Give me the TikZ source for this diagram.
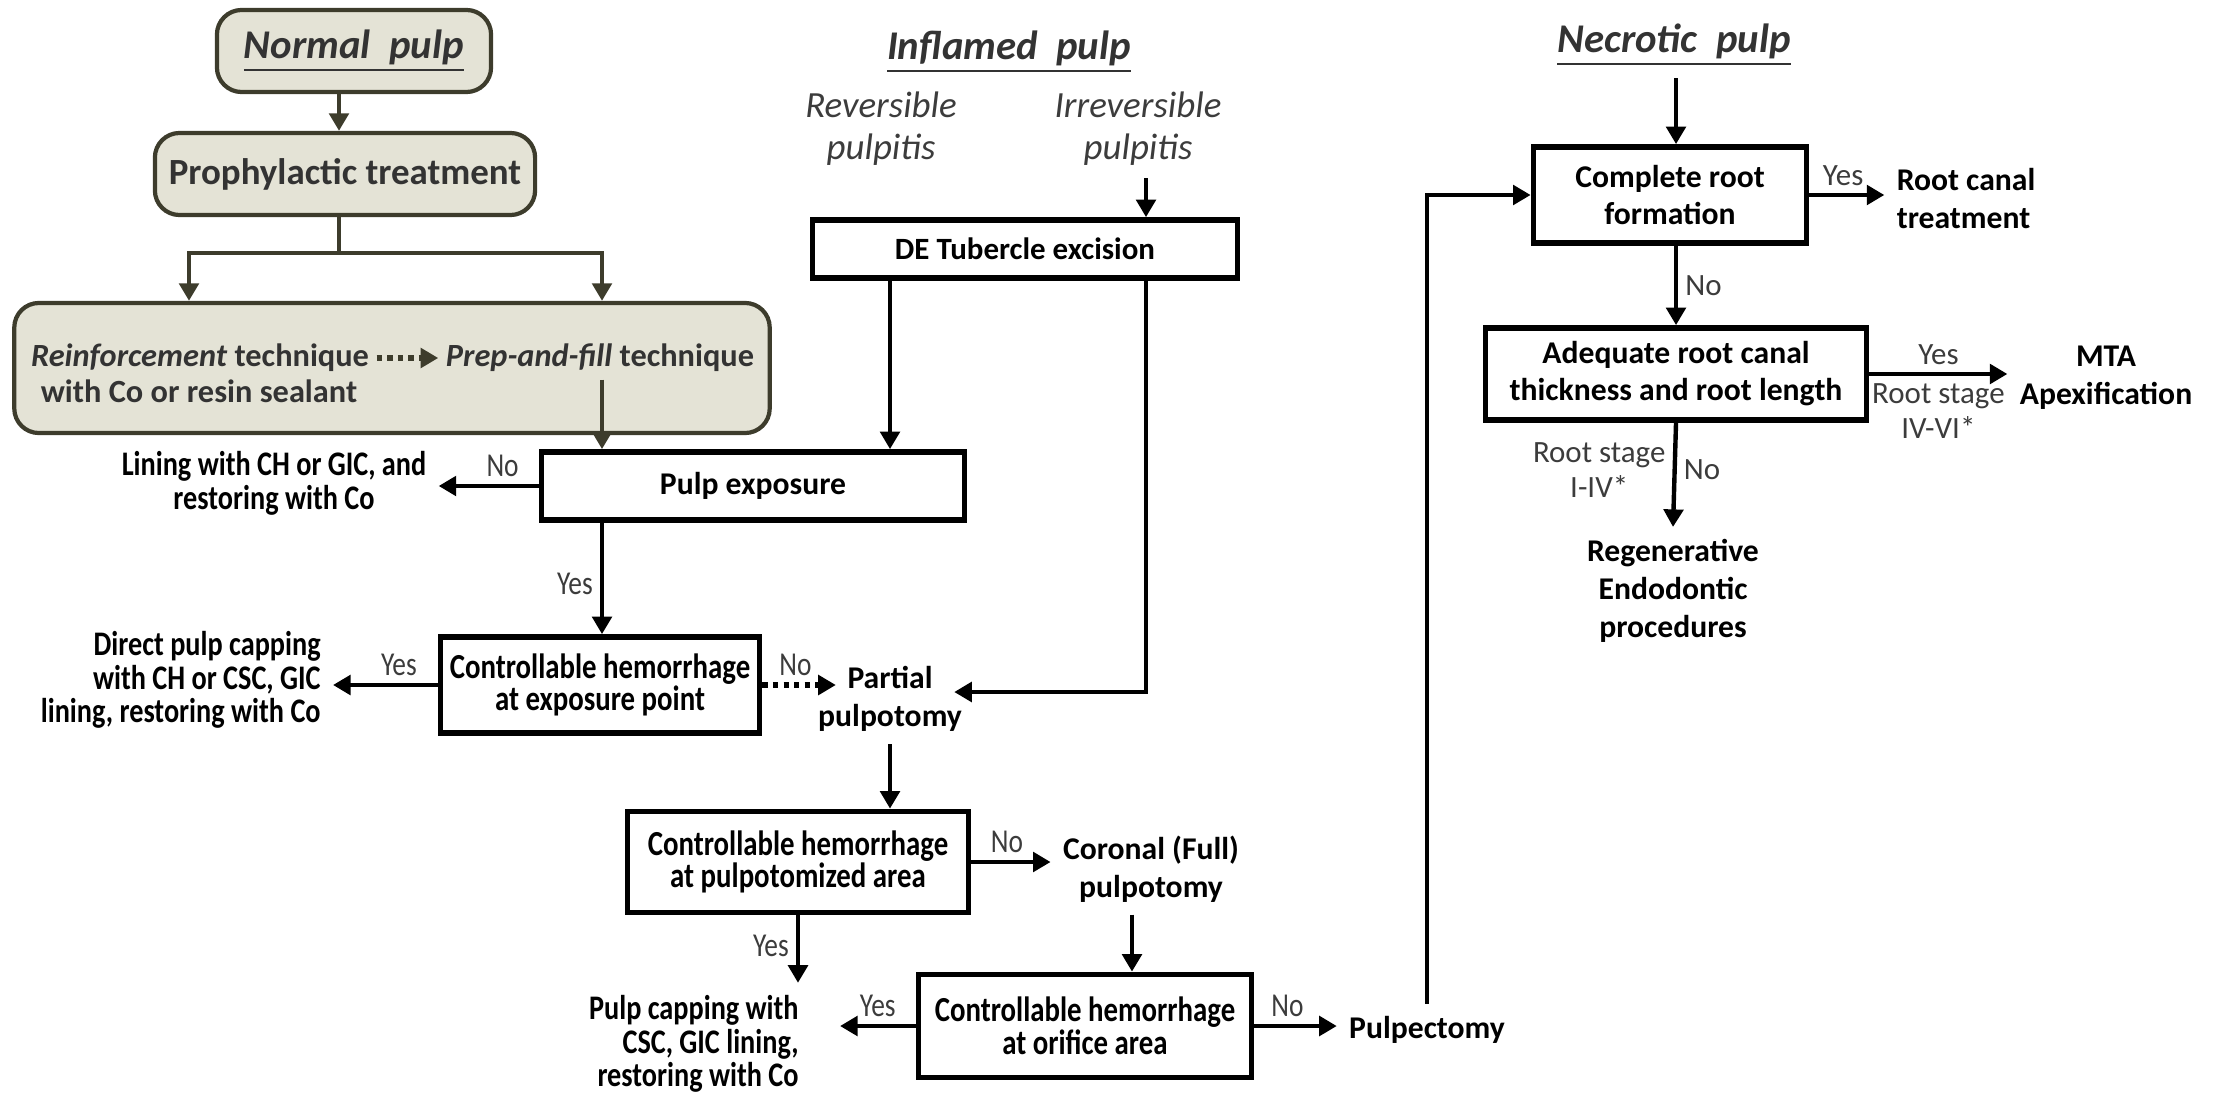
\documentclass[tikz,border=0pt]{standalone}
\usepackage{fontspec}
\setmainfont{Carlito}
\newfontfamily\narrowfont{Carlito}[FakeStretch=0.82]
\usetikzlibrary{arrows.meta,positioning}
\definecolor{dpbeige}{HTML}{E4E3D6}
\definecolor{dpolive}{HTML}{3D3C2C}
\definecolor{dptext}{HTML}{333333}
\definecolor{dpgray}{HTML}{3C3C3C}
\newcommand{\fs}[2]{\fontsize{#1}{#2}\selectfont}
\tikzset{
  shade/.style={draw=dpolive,fill=dpbeige,line width=1.2pt,rounded corners=7pt,
    inner sep=0pt,text=dptext},
  techtxt/.style={font=\bfseries\fs{9.2}{10},text=dptext,inner sep=2pt},
  decbox/.style={draw,line width=1.6pt,fill=white,inner sep=0pt,align=center,
    font=\bfseries\fs{9}{10.5}},
  nbox/.style={decbox,font=\narrowfont\bfseries\fs{10}{9.3}},
  outc/.style={align=center,font=\bfseries\fs{9}{10.8}},
  nout/.style={align=right,font=\narrowfont\bfseries\fs{9.8}{9.6}},
  head/.style={font=\bfseries\itshape\fs{11.6}{13},text=dptext},
  sub/.style={align=center,font=\itshape\fs{10.5}{12},text=dpgray},
  lbl/.style={font=\fs{8.8}{10},text=dpgray,inner sep=2pt},
  nlbl/.style={lbl,font=\narrowfont\fs{9.5}{10}},
  arr/.style={-{Triangle[length=5pt,width=5.5pt]},line width=1.25pt},
  oarr/.style={arr,draw=dpolive},
  oline/.style={line width=1.25pt,draw=dpolive},
  dotarr/.style={arr,line width=1.5pt,dash pattern=on 1.5pt off 1.5pt},
}
\begin{document}
\begin{tikzpicture}[x=0.01cm,y=-0.01cm]
\useasboundingbox (0,0) rectangle (2216,1094);
% normal pulp
\node[shade,minimum width=2.74cm,minimum height=0.82cm,head] (normal) at (354,51) {\underline{Normal\ \ pulp}};
\node[shade,minimum width=3.80cm,minimum height=0.82cm,font=\bfseries\fs{10.5}{12}] (proph) at (345,174) {Prophylactic treatment};
\node[shade,minimum width=7.55cm,minimum height=1.30cm] (tech) at (392,368) {};
\node[techtxt] (reinf) at (200,358) {\textit{Reinforcement} technique};
\node[techtxt] (seal) at (199,391) {with Co or resin sealant};
\node[techtxt] (prep) at (600,358) {\textit{Prep-and-fill} technique};
\coordinate (split) at (339,253);
\coordinate (splitL) at (189,253);
\coordinate (splitR) at (602,253);
\draw[oarr] (normal.south -| split) -- (split |- proph.north);
\draw[oline] (proph.south -| split) -- (split);
\draw[oarr] (split) -| (splitL |- tech.north);
\draw[oarr] (split) -| (splitR |- tech.north);
\draw[dotarr,draw=dpolive] (reinf) -- (prep);
\node[decbox,minimum width=4.23cm,minimum height=0.68cm] (pexp) at (753,486) {Pulp exposure};
\draw[oarr] (prep.south -| splitR) -- (splitR |- pexp.north);
\node[nout,align=center] (lining) at (274,483) {Lining with CH or GIC, and\\restoring with Co};
\draw[arr] (pexp.west) -- node[nlbl,above,pos=0.36]{No} (pexp.west -| lining.east);
\node[nbox,minimum width=3.19cm,minimum height=0.96cm] (chexp) at (600,685) {Controllable hemorrhage\\at exposure point};
\draw[arr] (pexp.south -| splitR) -- node[nlbl,left,pos=0.55]{Yes} (splitR |- chexp.north);
\node[nout,anchor=east] (direct) at (333,680) {Direct pulp capping\\with CH or CSC, GIC\\lining, restoring with Co};
\draw[arr] (chexp.west) -- node[nlbl,above,pos=0.37]{Yes} (chexp.west -| direct.east);
\node[outc] (partial) at (890,699) {Partial\\pulpotomy};
\draw[dotarr] (chexp.east) -- node[nlbl,above,pos=0.45]{No} ([xshift=0.3cm]partial.west |- chexp.east);
% inflamed pulp
\node[head] (inflamed) at (1009,52) {\underline{Inflamed\ \ pulp}};
\node[sub] (rev) at (881,129) {Reversible\\pulpitis};
\node[sub] (irrev) at (1138,129) {Irreversible\\pulpitis};
\node[decbox,minimum width=4.25cm,minimum height=0.58cm,font=\bfseries\fs{8.8}{10}] (detub) at (1025,249) {DE Tubercle excision};
\coordinate (rcol) at (1146,692);
\draw[arr] (irrev.south -| rcol) -- (rcol |- detub.north);
\draw[arr] (detub.south -| partial) -- (partial |- pexp.north);
\draw[arr] (detub.south -| rcol) -- (rcol) -- ([xshift=-0.2cm]partial.east |- rcol);
\node[nbox,minimum width=3.41cm,minimum height=1.01cm] (chpul) at (798,862) {Controllable hemorrhage\\at pulpotomized area};
\draw[arr] (partial.south) -- (partial |- chpul.north);
\node[outc] (coronal) at (1151,869) {Coronal (Full)\\pulpotomy};
\draw[arr] (chpul.east) -- node[nlbl,above,pos=0.45]{No} (coronal.west |- chpul.east);
\node[nout,anchor=east] (capping) at (811,1044) {Pulp capping with\\CSC, GIC lining,\\restoring with Co};
\draw[arr] (chpul.south) -- node[nlbl,left,pos=0.45]{Yes} (chpul.south |- capping.north);
\node[nbox,minimum width=3.33cm,minimum height=1.03cm] (chorf) at (1085,1026) {Controllable hemorrhage\\at orifice area};
\draw[arr] ([xshift=-0.19cm]coronal.south) -- ([xshift=-0.19cm]coronal.south |- chorf.north);
\draw[arr] (chorf.west) -- node[nlbl,above,pos=0.5]{Yes} ([xshift=0.29cm]capping.east |- chorf.west);
\node[outc] (pulpect) at (1427,1030) {Pulpectomy};
\draw[arr] (chorf.east) -- node[nlbl,above,pos=0.4]{No} (pulpect.west |- chorf.east);
% necrotic pulp
\node[head] (necro) at (1674,45) {\underline{Necrotic\ \ pulp}};
\node[decbox,minimum width=2.73cm,minimum height=0.96cm] (crf) at (1670,195) {Complete root\\formation};
\node[decbox,minimum width=3.81cm,minimum height=0.92cm] (arc) at (1676,374) {Adequate root canal\\thickness and root length};
\draw[arr] (pulpect.north) -- (pulpect.north |- crf.west) -- (crf.west);
\draw[arr] (necro.south -| arc) -- (arc |- crf.north);
\node[outc,align=left] (rct) at (1966,199) {Root canal\\treatment};
\draw[arr] (crf.east) -- node[lbl,above,pos=0.45]{Yes} (rct.west |- crf.east);
\draw[arr] (crf.south -| arc) -- node[lbl,right,pos=0.5]{No} (arc.north);
\node[outc] (mta) at (2106,378) {MTA\\Apexification};
\draw[arr] (arc.east) -- node[lbl,above,pos=0.5]{Yes} node[lbl,below,pos=0.5,align=center]{Root stage\\IV-VI*} (mta.west |- arc.east);
\node[outc] (regen) at (1673,591) {Regenerative\\Endodontic\\procedures};
\draw[arr] (arc.south) -- node[lbl,right,pos=0.45]{No} node[lbl,left,pos=0.45,align=center]{Root stage\\I-IV*} (regen.north);
\end{tikzpicture}
\end{document}
